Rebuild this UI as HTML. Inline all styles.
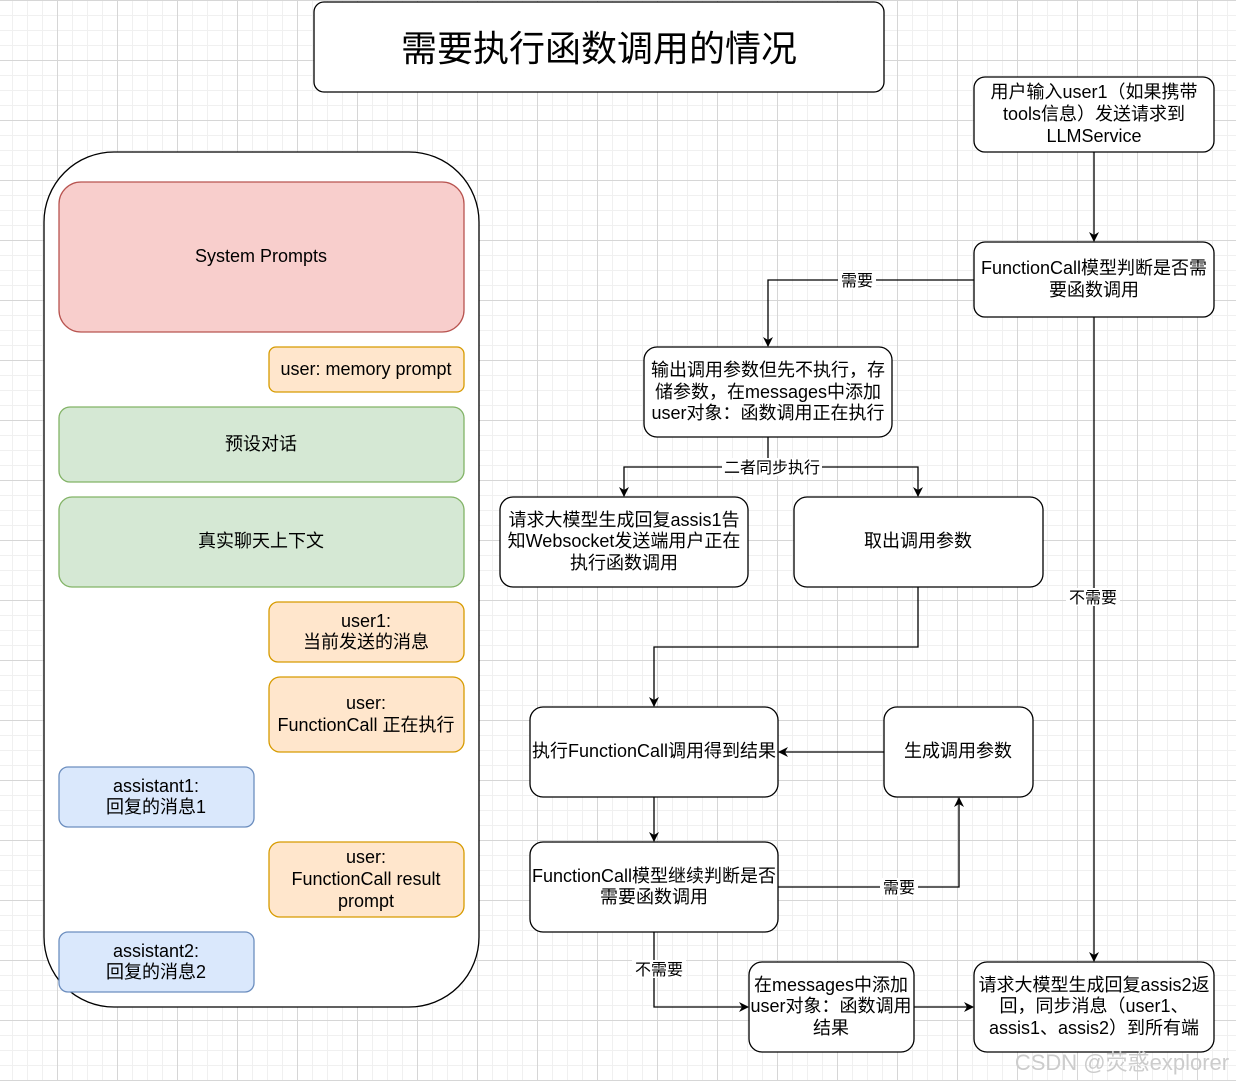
<!DOCTYPE html>
<html><head><meta charset="utf-8"><style>
body{margin:0;width:1236px;height:1081px;overflow:hidden;background:#fff;
background-image:linear-gradient(#d6d6d6 1px,transparent 1px),linear-gradient(90deg,#d6d6d6 1px,transparent 1px),linear-gradient(#f0f0f0 1px,transparent 1px),linear-gradient(90deg,#f0f0f0 1px,transparent 1px);
background-size:60px 60px,60px 60px,15px 15px,15px 15px;
background-position:0 0,57px 0,0 0,12px 0;}
svg{position:absolute;left:0;top:0}
text{font-family:"Liberation Sans","Noto Sans CJK SC",sans-serif;font-size:18px;fill:#000;text-anchor:middle}
</style></head><body>
<svg width="1236" height="1081" viewBox="0 0 1236 1081">
<defs><marker id="a" markerWidth="10" markerHeight="10" refX="9" refY="5" orient="auto" markerUnits="userSpaceOnUse"><path d="M0,0 L10,5 L0,10 L3,5z" fill="#000"/></marker></defs>
<g stroke="#000" stroke-width="1.3">
<rect x="314" y="2" width="570" height="90" rx="10" fill="#fff"/>
<rect x="44" y="152" width="435" height="855" rx="70" fill="#fff"/>
<rect x="59" y="182" width="405" height="150" rx="22" fill="#f8cecc" stroke="#b85450"/>
<rect x="269" y="347" width="195" height="45" rx="7" fill="#ffe6cc" stroke="#d79b00"/>
<rect x="59" y="407" width="405" height="75" rx="11" fill="#d5e8d4" stroke="#82b366"/>
<rect x="59" y="497" width="405" height="90" rx="13" fill="#d5e8d4" stroke="#82b366"/>
<rect x="269" y="602" width="195" height="60" rx="9" fill="#ffe6cc" stroke="#d79b00"/>
<rect x="269" y="677" width="195" height="75" rx="11" fill="#ffe6cc" stroke="#d79b00"/>
<rect x="59" y="767" width="195" height="60" rx="9" fill="#dae8fc" stroke="#6c8ebf"/>
<rect x="269" y="842" width="195" height="75" rx="11" fill="#ffe6cc" stroke="#d79b00"/>
<rect x="59" y="932" width="195" height="60" rx="9" fill="#dae8fc" stroke="#6c8ebf"/>
<rect x="974" y="77" width="240" height="75" rx="11" fill="#fff"/>
<rect x="974" y="242" width="240" height="75" rx="11" fill="#fff"/>
<rect x="644" y="347" width="248" height="90" rx="13" fill="#fff"/>
<rect x="500" y="497" width="248" height="90" rx="13" fill="#fff"/>
<rect x="794" y="497" width="249" height="90" rx="13" fill="#fff"/>
<rect x="530" y="707" width="248" height="90" rx="13" fill="#fff"/>
<rect x="884" y="707" width="149" height="90" rx="13" fill="#fff"/>
<rect x="530" y="842" width="248" height="90" rx="13" fill="#fff"/>
<rect x="749" y="962" width="165" height="90" rx="13" fill="#fff"/>
<rect x="974" y="962" width="240" height="90" rx="13" fill="#fff"/>
<g fill="none" marker-end="url(#a)">
<path d="M1094,152V241"/>
<path d="M974,280H768V346"/>
<path d="M768,437V467H624V496"/>
<path d="M768,467H918V496"/>
<path d="M918,587V647H654V706"/>
<path d="M884,752H779"/>
<path d="M654,797V841"/>
<path d="M778,887H959V798"/>
<path d="M654,932V1007H748"/>
<path d="M914,1007H973"/>
<path d="M1094,317V961"/>
</g></g>
<text x="599" y="61" style="font-size:36px">需要执行函数调用的情况</text>
<text x="261" y="262">System Prompts</text>
<text x="366" y="375">user: memory prompt</text>
<text x="261" y="450">预设对话</text>
<text x="261" y="547">真实聊天上下文</text>
<text x="366" y="627">user1:</text><text x="366" y="648">当前发送的消息</text>
<text x="366" y="709">user:</text><text x="366" y="731">FunctionCall 正在执行</text>
<text x="156" y="792">assistant1:</text><text x="156" y="813">回复的消息1</text>
<text x="366" y="863">user:</text><text x="366" y="885">FunctionCall result</text><text x="366" y="907">prompt</text>
<text x="156" y="957">assistant2:</text><text x="156" y="978">回复的消息2</text>
<text x="1094" y="98">用户输入user1（如果携带</text><text x="1094" y="120">tools信息）发送请求到</text><text x="1094" y="142">LLMService</text>
<text x="1094" y="274">FunctionCall模型判断是否需</text><text x="1094" y="296">要函数调用</text>
<text x="768" y="376">输出调用参数但先不执行，存</text><text x="768" y="398">储参数，在messages中添加</text><text x="768" y="419">user对象：函数调用正在执行</text>
<text x="624" y="526">请求大模型生成回复assis1告</text><text x="624" y="547">知Websocket发送端用户正在</text><text x="624" y="569">执行函数调用</text>
<text x="918" y="547">取出调用参数</text>
<text x="654" y="757">执行FunctionCall调用得到结果</text>
<text x="958" y="757">生成调用参数</text>
<text x="654" y="882">FunctionCall模型继续判断是否</text><text x="654" y="903">需要函数调用</text>
<text x="831" y="991">在messages中添加</text><text x="831" y="1012">user对象：函数调用</text><text x="831" y="1034">结果</text>
<text x="1094" y="991">请求大模型生成回复assis2返</text><text x="1094" y="1012">回，同步消息（user1、</text><text x="1094" y="1034">assis1、assis2）到所有端</text>
<g style="font-size:16px">
<rect x="838" y="271" width="38" height="18" fill="#fff"/><text x="857" y="286" style="font-size:16px">需要</text>
<rect x="722" y="458" width="100" height="18" fill="#fff"/><text x="772" y="473" style="font-size:16px">二者同步执行</text>
<rect x="880" y="878" width="38" height="18" fill="#fff"/><text x="899" y="893" style="font-size:16px">需要</text>
<rect x="632" y="960" width="54" height="18" fill="#fff"/><text x="659" y="975" style="font-size:16px">不需要</text>
<rect x="1066" y="588" width="54" height="18" fill="#fff"/><text x="1093" y="603" style="font-size:16px">不需要</text>
</g>
<text x="1122" y="1070" style="font-size:22px;fill:#ccc">CSDN @荧惑explorer</text>
</svg></body></html>
